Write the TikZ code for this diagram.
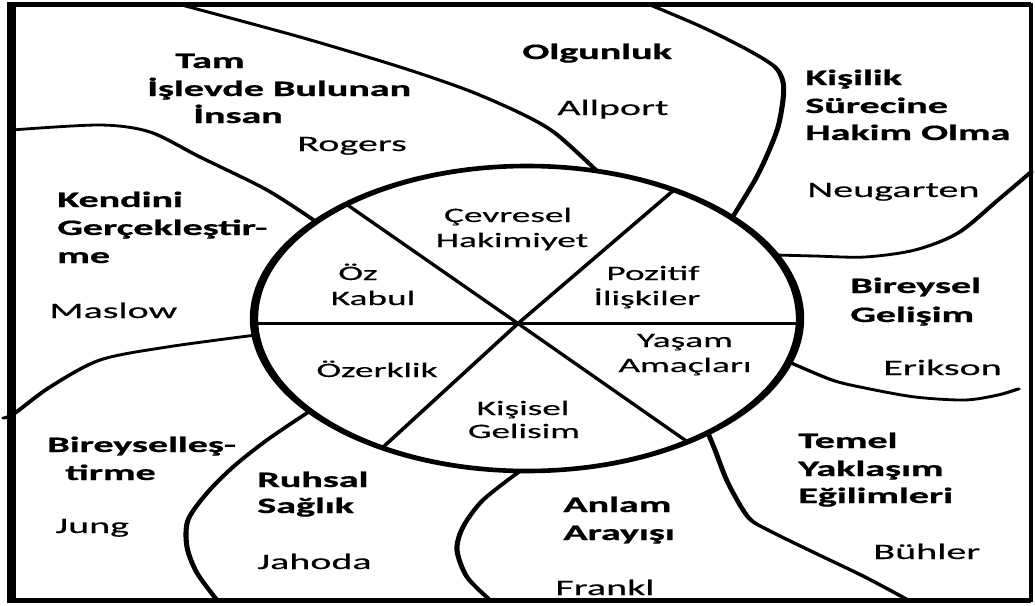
\documentclass[tikz,border=0pt]{standalone}
\usepackage{fontspec}
\setmainfont{Carlito}[UprightFeatures={FakeBold=0.25}, BoldFeatures={FakeBold=0.7}]
\tikzset{
  ttl/.style={font=\bfseries\fontsize{22}{27}\selectfont, anchor=base west, inner sep=0pt},
  who/.style={font=\fontsize{22}{27}\selectfont, anchor=base west, inner sep=0pt},
  inn/.style={font=\fontsize{20.5}{25}\selectfont, anchor=base, inner sep=0pt},
  bound/.style={line width=2.8pt, line join=round, line cap=round},
  spokeline/.style={line width=2.5pt},
  ring/.style={line width=4.6pt},
}
\begin{document}
\begin{tikzpicture}[x=1pt,y=-1pt]
\useasboundingbox (0,0) rectangle (1035,605);
\fill[white] (0,0) rectangle (1035,605);
\begin{scope}[x=0.549451pt, y=-1pt, transform canvas={xscale=1.82}]
  % frame
  \draw[line width=5pt] (1031,4.5) -- (11.5,4.5) -- (11.5,600.5) -- (1031,600.5);
  \draw[line width=2.4pt] (1031,3) -- (1031,602);
  % hub
  \coordinate (hub) at (518,323.5);
  % spokes clipped to ellipse
  \begin{scope}
    \clip (527,318.5) ellipse [x radius=150pt, y radius=152.5pt];
    \draw[spokeline] (200,323.5) -- (850,323.5);
    \draw[spokeline] (hub) -- (300,172);
    \draw[spokeline] (hub) -- (716,154);
    \draw[spokeline] (hub) -- (345,482);
    \draw[spokeline] (hub) -- (735,475);
  \end{scope}
  % outer boundaries
  \draw[bound] plot[smooth] coordinates {(178,4) (300,37) (400,67) (467,90) (520,113) (555,133) (597,171)};
  \draw[bound] plot[smooth] coordinates {(648,4) (702,27) (748,50) (775,67) (783,82) (783,100) (778,127) (768,153) (755,180) (732,218)};
  \draw[bound] plot[smooth] coordinates {(1031,172) (998,200) (958,233) (915,250) (865,257) (815,256) (776,255)};
  \draw[bound] plot[smooth] coordinates {(789,362) (832,380) (865,388) (915,397) (965,400) (998,395) (1018,389)};
  \draw[bound] plot[smooth] coordinates {(708,433) (715,450) (728,483) (748,517) (768,530) (815,553) (865,577) (908,600)};
  \draw[bound] plot[smooth] coordinates {(520,471) (483,500) (463,527) (457,550) (467,577) (490,600)};
  \draw[bound] plot[smooth] coordinates {(310,411) (267,440) (233,467) (207,493) (188,520) (187,547) (197,573) (217,600)};
  \draw[bound] plot[smooth] coordinates {(256,335) (167,347) (100,360) (50,387) (15,413) (4,418)};
  \draw[bound] plot[smooth] coordinates {(12,130) (100,125) (150,132) (200,157) (267,190) (315,221)};
  % ring
  \draw[ring] (527,318.5) ellipse [x radius=150pt, y radius=152.5pt];
  % inner labels
  \node[inn] (cev1) at (508,222) {Çevresel};
  \node[inn] (cev2) at (512,247) {Hakimiyet};
  \node[inn] (oz1) at (358,280) {Öz};
  \node[inn] (oz2) at (373,305) {Kabul};
  \node[inn] (poz1) at (653,280) {Pozitif};
  \node[inn] (poz2) at (647,305) {İlişkiler};
  \node[inn] (yas1) at (685,347) {Yaşam};
  \node[inn] (yas2) at (685,372) {Amaçları};
  \node[inn] (ozk) at (377,377) {Özerklik};
  \node[inn] (kis1) at (523,415) {Kişisel};
  \node[inn] (kis2) at (524,438) {Gelisim};
  % outer labels
  \node[ttl] (t1a) at (175,68) {Tam};
  \node[ttl] (t1b) at (147,96) {İşlevde Bulunan};
  \node[ttl] (t1c) at (193,123) {İnsan};
  \node[who] (w1) at (297,151) {Rogers};
  \node[ttl] (t2) at (522,59) {Olgunluk};
  \node[who] (w2) at (557,115) {Allport};
  \node[ttl] (t3a) at (805,85) {Kişilik};
  \node[ttl] (t3b) at (805,113) {Sürecine};
  \node[ttl] (t3c) at (805,140) {Hakim Olma};
  \node[who] (w3) at (807,197) {Neugarten};
  \node[ttl] (t4a) at (57,207) {Kendini};
  \node[ttl] (t4b) at (57,235) {Gerçekleştir-};
  \node[ttl] (t4c) at (57,263) {me};
  \node[who] (w4) at (49,318) {Maslow};
  \node[ttl] (t5a) at (850,293) {Bireysel};
  \node[ttl] (t5b) at (850,322) {Gelişim};
  \node[who] (w5) at (883,375) {Erikson};
  \node[ttl] (t6a) at (47,452) {Bireyselleş-};
  \node[ttl] (t6b) at (65,480) {tirme};
  \node[who] (w6) at (55,533) {Jung};
  \node[ttl] (t7a) at (257,487) {Ruhsal};
  \node[ttl] (t7b) at (257,513) {Sağlık};
  \node[who] (w7) at (257,569) {Jahoda};
  \node[ttl] (t8a) at (563,512) {Anlam};
  \node[ttl] (t8b) at (563,540) {Arayışı};
  \node[who] (w8) at (555,595) {Frankl};
  \node[ttl] (t9a) at (798,448) {Temel};
  \node[ttl] (t9b) at (798,476) {Yaklaşım};
  \node[ttl] (t9c) at (798,503) {Eğilimleri};
  \node[who] (w9) at (873,559) {Bühler};
\end{scope}
\end{tikzpicture}
\end{document}
